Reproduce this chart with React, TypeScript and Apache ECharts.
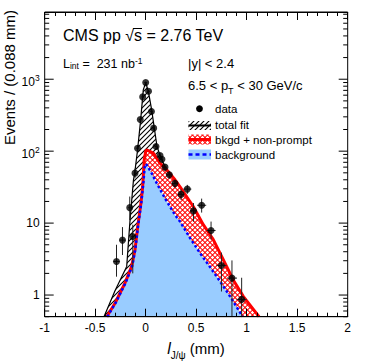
import React, { useEffect, useRef } from 'react';
import * as echarts from 'echarts';

const FONT = '"Liberation Sans", Arial, Helvetica, sans-serif';

// axis ranges
const X_MIN = -1;
const X_MAX = 2;
const X_INTERVAL = 0.5;
const Y_MIN = 0.5;
const Y_MAX = 8600;

// y tick labels (log axis)
const yLabelValues = [1, 10, 100, 1000];
const yLabelBase = ['1', '10', '10', '10'];
const yLabelExp = ['', '', '2', '3'];
const yDecades = [0.1, 1, 10, 100, 1000];
const yMinorMultipliers = [2, 3, 4, 5, 6, 7, 8, 9];

// data points (l_J/psi in mm, events / 0.088 mm)
const dataX = [-0.289, -0.23, -0.158, -0.128, -0.106, -0.081, -0.054, -0.03, 0.0, 0.028, 0.057, 0.079, 0.102, 0.142, 0.161, 0.191, 0.234, 0.29, 0.35, 0.412, 0.473, 0.554, 0.647, 0.75, 0.854, 0.95];
const dataY = [2.93, 5.8, 16.4, 6.5, 49.5, 110, 275, 568, 897, 681, 357, 209, 116, 86.9, 77.4, 60, 46.9, 35.7, 25.1, 29.7, 14.8, 17.7, 7.9, 2.58, 1.72, 0.87];
const dataLo = [1.8, 3.6, 11, 2.0, 42, 98, 258, 544, 867, 655, 338, 195, 106, 79, 70, 54, 41.5, 31, 21, 25.5, 10.5, 14, 5.9, 1.12, 0.5, 0.5];
const dataHi = [5.0, 8.8, 23.4, 9.5, 57, 122, 292, 592, 927, 707, 376, 223, 126, 95, 85, 66, 52.5, 40.5, 29.5, 34, 19, 21.9, 10.5, 3.89, 3.03, 1.74];
const dataXErr = [0.03, 0.03, 0.015, 0.015, 0.012, 0.013, 0.013, 0.013, 0.014, 0.014, 0.013, 0.012, 0.013, 0.01, 0.012, 0.02, 0.025, 0.03, 0.03, 0.04, 0.035, 0.045, 0.045, 0.05, 0.05, 0.05];

// total fit curve
const totalX = [-0.413, -0.304, -0.188, -0.155, -0.121, -0.109, -0.079, -0.05, -0.024, 0.0, 0.026, 0.059, 0.085, 0.112, 0.142, 0.19, 0.234, 0.29, 0.34, 0.471, 0.57, 0.669, 0.768, 0.867, 0.966, 1.122];
const totalY = [0.5, 1.15, 2.5, 11.1, 40, 49.5, 109, 272, 710, 897, 681, 375, 211, 116, 87.5, 61, 50, 40, 32, 17, 9.5, 5.9, 3.1, 1.62, 0.96, 0.5];

// background + non-prompt curve
const nonPromptX = [-0.386, -0.304, -0.205, -0.139, -0.106, -0.079, -0.047, -0.03, -0.015, 0.0, 0.01, 0.03, 0.075, 0.142, 0.224, 0.29, 0.34, 0.471, 0.57, 0.669, 0.768, 0.867, 0.966, 1.122];
const nonPromptY = [0.5, 0.77, 1.47, 2.5, 4.26, 9, 19, 32, 75, 100, 104, 101, 93.8, 68, 52, 40, 32, 17, 9.5, 5.9, 3.1, 1.62, 0.96, 0.5];

// background curve
const bkgX = [-0.38, -0.3, -0.2, -0.135, -0.103, -0.076, -0.044, -0.022, -0.01, 0.003, 0.03, 0.059, 0.1, 0.142, 0.2, 0.24, 0.29, 0.34, 0.439, 0.538, 0.637, 0.736, 0.835, 0.96];
const bkgY = [0.5, 0.77, 1.47, 2.5, 4.26, 9, 19, 38, 60, 66.7, 58, 49.4, 38, 29.5, 21, 17, 13, 10.5, 6.2, 3.83, 2.45, 1.55, 0.96, 0.5];

const BLUE_FILL = '#99ccff';

function makeHatch() {
  const s = 5;
  const c = document.createElement('canvas');
  c.width = s;
  c.height = s;
  const g = c.getContext('2d')!;
  g.fillStyle = '#ffffff';
  g.fillRect(0, 0, s, s);
  g.strokeStyle = '#000000';
  g.lineWidth = 1.1;
  g.beginPath();
  g.moveTo(-1, s + 1);
  g.lineTo(s + 1, -1);
  g.moveTo(-1, 1);
  g.lineTo(1, -1);
  g.moveTo(s - 1, s + 1);
  g.lineTo(s + 1, s - 1);
  g.stroke();
  return { image: c.toDataURL(), repeat: 'repeat', imageWidth: s, imageHeight: s };
}

function makeCross() {
  const s = 5;
  const c = document.createElement('canvas');
  c.width = s;
  c.height = s;
  const g = c.getContext('2d')!;
  g.fillStyle = '#ff0000';
  g.fillRect(0, 0, s, s);
  g.fillStyle = '#ffffff';
  const r = 1.85;
  const pts = [[2.5, 2.5], [0, 0], [s, 0], [0, s], [s, s]];
  pts.forEach(([x, y]) => {
    g.beginPath();
    g.moveTo(x, y - r);
    g.lineTo(x + r, y);
    g.lineTo(x, y + r);
    g.lineTo(x - r, y);
    g.closePath();
    g.fill();
  });
  return { image: c.toDataURL(), repeat: 'repeat', imageWidth: s, imageHeight: s };
}

function pairs(xs: number[], ys: number[]) {
  return xs.map((x, i) => [x, ys[i]]);
}

export default function App() {
  const ref = useRef<HTMLDivElement>(null);

  useEffect(() => {
    if (!ref.current) return;
    const chart = echarts.init(ref.current, undefined, { renderer: 'svg' });
    const hatch = makeHatch();
    const cross = makeCross();

    const yTicks: number[][] = [];
    yDecades.forEach((d) => {
      const major = d * 1;
      if (major >= Y_MIN && major <= Y_MAX) yTicks.push([X_MIN, major, 1]);
      yMinorMultipliers.forEach((m) => {
        const v = m * d;
        if (v >= Y_MIN && v <= Y_MAX) yTicks.push([X_MIN, v, 0]);
      });
    });

    const axisTickStyle = { color: '#000', width: 1 };

    const option: any = {
      animation: false,
      grid: {
        left: 44.7,
        right: 26.3,
        top: 12,
        bottom: 44.3,
        show: true,
        borderColor: '#000',
        borderWidth: 1,
        backgroundColor: 'transparent',
      },
      xAxis: [
        {
          type: 'value',
          min: X_MIN,
          max: X_MAX,
          interval: X_INTERVAL,
          position: 'bottom',
          z: 10,
          axisLine: { show: true, onZero: false, lineStyle: { color: '#000', width: 1.2 } },
          axisTick: { show: true, inside: true, length: 8, lineStyle: axisTickStyle },
          minorTick: { show: true, splitNumber: 5, length: 4, lineStyle: axisTickStyle },
          splitLine: { show: false },
          minorSplitLine: { show: false },
          axisLabel: { margin: 5, fontSize: 12, fontFamily: FONT, color: '#000' },
        },
        {
          type: 'value',
          min: X_MIN,
          max: X_MAX,
          interval: X_INTERVAL,
          position: 'top',
          z: 10,
          axisLine: { show: true, onZero: false, lineStyle: { color: '#000' } },
          axisTick: { show: true, inside: true, length: 8, lineStyle: axisTickStyle },
          minorTick: { show: true, splitNumber: 5, length: 4, lineStyle: axisTickStyle },
          splitLine: { show: false },
          axisLabel: { show: false },
        },
      ],
      yAxis: {
        type: 'log',
        logBase: 10,
        min: Y_MIN,
        max: Y_MAX,
        axisLine: { show: false, onZero: false },
        axisTick: { show: false },
        minorTick: { show: false },
        splitLine: { show: false },
        axisLabel: {
          margin: 5,
          showMinLabel: false,
          showMaxLabel: false,
          color: '#000',
          fontFamily: FONT,
          formatter: (v: number) => {
            const idx = yLabelValues.findIndex((t) => Math.abs(Math.log10(v) - Math.log10(t)) < 1e-6);
            if (idx < 0) return '';
            if (yLabelExp[idx]) return `{nb|${yLabelBase[idx]}}{s|${yLabelExp[idx]}}`;
            return `{n|${yLabelBase[idx]}}`;
          },
          rich: {
            n: { fontSize: 12, fontFamily: FONT, color: '#000', lineHeight: 14 },
            nb: { fontSize: 12, fontFamily: FONT, color: '#000', lineHeight: 12, padding: [6, 0, 0, 0] },
            s: { fontSize: 8.5, fontFamily: FONT, color: '#000', lineHeight: 10, verticalAlign: 'top' },
          },
        },
      },
      series: [
        {
          name: 'total fit area',
          type: 'line',
          data: pairs(totalX, totalY),
          symbol: 'none',
          silent: true,
          lineStyle: { width: 0 },
          areaStyle: { color: hatch, opacity: 1, origin: 'start' },
          z: 1,
        },
        {
          name: 'bkgd + non-prompt area',
          type: 'line',
          data: pairs(nonPromptX, nonPromptY),
          symbol: 'none',
          silent: true,
          lineStyle: { width: 0 },
          areaStyle: { color: cross, opacity: 1, origin: 'start' },
          z: 1,
        },
        {
          name: 'background area',
          type: 'line',
          data: pairs(bkgX, bkgY),
          symbol: 'none',
          silent: true,
          lineStyle: { width: 0 },
          areaStyle: { color: BLUE_FILL, opacity: 1, origin: 'start' },
          z: 1,
        },
        {
          name: 'total fit',
          type: 'line',
          data: pairs(totalX, totalY),
          symbol: 'none',
          silent: true,
          lineStyle: { width: 1.2, color: '#000' },
          z: 2,
        },
        {
          name: 'bkgd + non-prompt',
          type: 'line',
          data: pairs(nonPromptX, nonPromptY),
          symbol: 'none',
          silent: true,
          lineStyle: { width: 3, color: '#ff0000' },
          z: 2,
        },
        {
          name: 'background',
          type: 'line',
          data: pairs(bkgX, bkgY),
          symbol: 'none',
          silent: true,
          lineStyle: { width: 2.5, color: '#0000ff', type: [2.5, 2.5] },
          z: 2,
        },
        {
          name: 'errors',
          type: 'custom',
          silent: true,
          z: 3,
          encode: { x: 0, y: 1 },
          data: dataX.map((x, i) => [x, dataY[i], dataLo[i], dataHi[i], dataXErr[i]]),
          renderItem: (params: any, api: any) => {
            const x = api.value(0);
            const y = api.value(1);
            const lo = Math.max(api.value(2), Y_MIN);
            const hi = api.value(3);
            const xe = api.value(4);
            const p = api.coord([x, y]);
            const pLo = api.coord([x, lo]);
            const pHi = api.coord([x, hi]);
            const pL = api.coord([x - xe, y]);
            const pR = api.coord([x + xe, y]);
            const st = { stroke: '#222', lineWidth: 1 };
            return {
              type: 'group',
              children: [
                { type: 'line', shape: { x1: p[0], y1: pLo[1], x2: p[0], y2: pHi[1] }, style: st },
                { type: 'line', shape: { x1: pL[0], y1: p[1], x2: pR[0], y2: p[1] }, style: st },
              ],
            };
          },
        },
        {
          name: 'data',
          type: 'scatter',
          data: pairs(dataX, dataY),
          symbol: 'circle',
          symbolSize: 7,
          itemStyle: { color: '#000' },
          silent: true,
          z: 4,
        },
        {
          name: 'yticks',
          type: 'custom',
          silent: true,
          z: 5,
          encode: { x: 0, y: 1 },
          data: yTicks,
          renderItem: (params: any, api: any) => {
            const cs = params.coordSys;
            const v = api.value(1);
            const major = api.value(2) === 1;
            const y = api.coord([X_MIN, v])[1];
            const len = major ? 9 : 4.5;
            const st = { stroke: '#000', lineWidth: 1 };
            return {
              type: 'group',
              children: [
                { type: 'line', shape: { x1: cs.x, y1: y, x2: cs.x + len, y2: y }, style: st },
                { type: 'line', shape: { x1: cs.x + cs.width - len, y1: y, x2: cs.x + cs.width, y2: y }, style: st },
              ],
            };
          },
        },
      ],
      graphic: [
        {
          type: 'text',
          x: 63,
          y: 35.5,
          style: { text: 'CMS pp √s = 2.76 TeV', fontSize: 16, fontFamily: FONT, fill: '#000', verticalAlign: 'middle' },
        },
        {
          type: 'line',
          shape: { x1: 133, y1: 28.5, x2: 142, y2: 28.5 },
          style: { stroke: '#000', lineWidth: 1 },
        },
        {
          type: 'text',
          x: 63,
          y: 63.5,
          style: {
            text: '{a|L}{b|int}{a| =  231 nb}{c|-1}',
            verticalAlign: 'middle',
            rich: {
              a: { fontSize: 12.5, fontFamily: FONT, fill: '#000', lineHeight: 14 },
              b: { fontSize: 8.5, fontFamily: FONT, fill: '#000', lineHeight: 9, verticalAlign: 'bottom' },
              c: { fontSize: 8.5, fontFamily: FONT, fill: '#000', lineHeight: 9, verticalAlign: 'top' },
            },
          },
        },
        {
          type: 'text',
          x: 188,
          y: 63.5,
          style: { text: '|y| < 2.4', fontSize: 13, fontFamily: FONT, fill: '#000', verticalAlign: 'middle' },
        },
        {
          type: 'text',
          x: 188,
          y: 85,
          style: {
            text: '{a|6.5 < p}{b|T}{a| < 30 GeV/c}',
            verticalAlign: 'middle',
            rich: {
              a: { fontSize: 13, fontFamily: FONT, fill: '#000', lineHeight: 14 },
              b: { fontSize: 9, fontFamily: FONT, fill: '#000', lineHeight: 9, verticalAlign: 'bottom', padding: [0, 0, -3, 0] },
            },
          },
        },
        // legend
        { type: 'circle', shape: { cx: 199.5, cy: 108.7, r: 3.4 }, style: { fill: '#000' } },
        { type: 'text', x: 215, y: 109, style: { text: 'data', fontSize: 11.5, fontFamily: FONT, fill: '#000', verticalAlign: 'middle' } },
        { type: 'rect', shape: { x: 188.5, y: 121, width: 22.5, height: 9 }, style: { fill: hatch } },
        { type: 'line', shape: { x1: 188.5, y1: 125.5, x2: 211, y2: 125.5 }, style: { stroke: '#000', lineWidth: 2 } },
        { type: 'text', x: 215, y: 125, style: { text: 'total fit', fontSize: 11.5, fontFamily: FONT, fill: '#000', verticalAlign: 'middle' } },
        { type: 'rect', shape: { x: 188.5, y: 134.5, width: 22.5, height: 10 }, style: { fill: cross } },
        { type: 'line', shape: { x1: 188.5, y1: 139.5, x2: 211, y2: 139.5 }, style: { stroke: '#ff0000', lineWidth: 3 } },
        { type: 'text', x: 215, y: 139.5, style: { text: 'bkgd + non-prompt', fontSize: 11.5, fontFamily: FONT, fill: '#000', verticalAlign: 'middle' } },
        { type: 'rect', shape: { x: 188.5, y: 149.5, width: 22.5, height: 10 }, style: { fill: BLUE_FILL } },
        { type: 'line', shape: { x1: 188.5, y1: 154.5, x2: 211, y2: 154.5 }, style: { stroke: '#0000ff', lineWidth: 2.5, lineDash: [4, 3] } },
        { type: 'text', x: 215, y: 154.5, style: { text: 'background', fontSize: 11.5, fontFamily: FONT, fill: '#000', verticalAlign: 'middle' } },
        // axis titles
        {
          type: 'text',
          x: 9,
          y: 10,
          rotation: Math.PI / 2,
          style: { text: 'Events / (0.088 mm)', fontSize: 15, fontFamily: FONT, fill: '#000', align: 'right', verticalAlign: 'middle' },
        },
        {
          type: 'text',
          x: 196,
          y: 348,
          style: {
            text: '{i|l}{s|J/ψ}{n| (mm)}',
            align: 'center',
            verticalAlign: 'middle',
            rich: {
              i: { fontSize: 16, fontFamily: FONT, fontStyle: 'italic', fill: '#000', lineHeight: 18 },
              s: { fontSize: 10, fontFamily: FONT, fill: '#000', lineHeight: 10, verticalAlign: 'bottom', padding: [0, 0, -3, 0] },
              n: { fontSize: 15, fontFamily: FONT, fill: '#000', lineHeight: 18 },
            },
          },
        },
      ],
    };

    chart.setOption(option);
    return () => {
      chart.dispose();
    };
  }, []);

  return (
    <div
      ref={ref}
      style={{ position: 'fixed', left: 0, top: 0, width: 374, height: 361, background: '#fff' }}
    />
  );
}
